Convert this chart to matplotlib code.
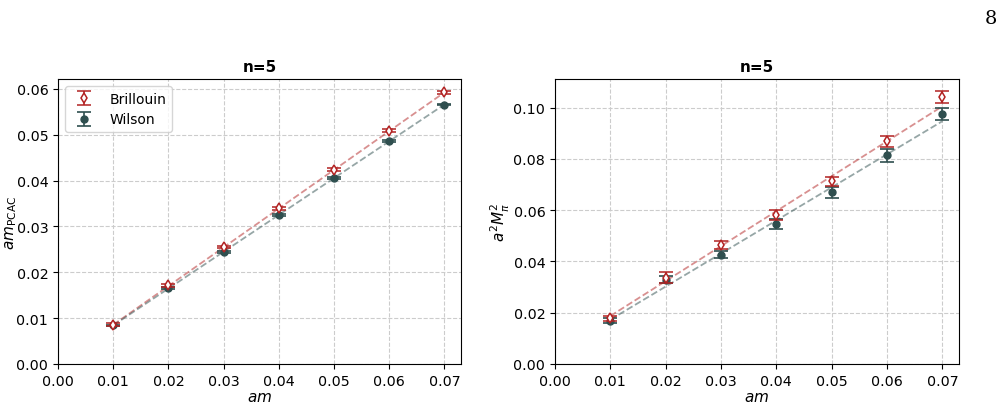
import numpy as np
import matplotlib
matplotlib.use("Agg")
import matplotlib.pyplot as plt

am = [0.01, 0.02, 0.03, 0.04, 0.05, 0.06, 0.07]

# am_PCAC
pcac_bri = [0.0086, 0.0172, 0.0255, 0.0340, 0.0424, 0.0509, 0.0593]
pcac_bri_err = [0.0003, 0.0003, 0.0003, 0.0003, 0.0003, 0.0003, 0.0003]
pcac_wil = [0.0084, 0.0165, 0.0244, 0.0325, 0.0406, 0.0487, 0.0566]
pcac_wil_err = [0.0002, 0.0002, 0.0002, 0.0002, 0.0002, 0.0002, 0.0002]

# a^2 M_pi^2
mpi_bri = [0.0178, 0.0337, 0.0464, 0.0581, 0.0713, 0.0868, 0.1042]
mpi_bri_err = [0.0010, 0.0021, 0.0016, 0.0019, 0.0017, 0.0023, 0.0024]
mpi_wil = [0.0168, 0.0329, 0.0426, 0.0545, 0.0669, 0.0814, 0.0975]
mpi_wil_err = [0.0010, 0.0015, 0.0014, 0.0019, 0.0021, 0.0025, 0.0025]

# fit lines (slope, intercept)
fit_pcac_bri = (0.845, 0.0001)
fit_pcac_wil = (0.803, 0.0004)
fit_mpi_bri = (1.363, 0.0051)
fit_mpi_wil = (1.29, 0.0044)

red = "#b22222"
dark = "#2f4f4f"

fig = plt.figure(figsize=(10.05, 4.06), dpi=100)
ax1 = fig.add_axes([58/1005, 41/406, 403/1005, 285/406])
ax2 = fig.add_axes([555/1005, 41/406, 404/1005, 285/406])

def panel(ax, yb, eb, yw, ew, fb, fw, ylabel, legend, lx):
    x = np.array(am)
    xl = np.array([am[0], am[-1]])
    ax.plot(xl, fb[0]*xl + fb[1], "--", color=red, alpha=0.5, lw=1.3, zorder=2)
    ax.plot(xl, fw[0]*xl + fw[1], "--", color=dark, alpha=0.5, lw=1.3, zorder=2)
    ax.errorbar(x, yw, yerr=ew, fmt="o", color=dark, ms=5, capsize=5,
                elinewidth=1.2, capthick=1.2, label="Wilson", zorder=3)
    ax.errorbar(x, yb, yerr=eb, fmt="d", color=red, mfc="white", mec=red,
                ms=5, mew=1.1, capsize=5, elinewidth=1.2, capthick=1.2,
                label="Brillouin", zorder=4)
    ax.set_xlim(left=0)
    ax.set_ylim(bottom=0)
    ax.set_xticks(np.arange(0, 0.071, 0.01))
    ax.grid(True, ls="--", color="#cccccc", lw=0.8)
    ax.set_axisbelow(True)
    ax.set_title("n=5", fontweight="bold", fontsize=11)
    ax.set_xlabel("$am$", fontsize=11, labelpad=1)
    ax.set_ylabel(ylabel, fontsize=11)
    ax.yaxis.set_label_coords(lx, 0.5)
    ax.tick_params(labelsize=10.3)
    if legend:
        h, l = ax.get_legend_handles_labels()
        ax.legend(h[::-1], l[::-1], loc="upper left", fontsize=10)

panel(ax1, pcac_bri, pcac_bri_err, pcac_wil, pcac_wil_err,
      fit_pcac_bri, fit_pcac_wil, r"$am_{\rm PCAC}$", True, -0.097)
panel(ax2, mpi_bri, mpi_bri_err, mpi_wil, mpi_wil_err,
      fit_mpi_bri, fit_mpi_wil, r"$a^2M_\pi^2$", False, -0.107)
ax1.set_yticks(np.arange(0, 0.061, 0.01))
ax2.set_yticks(np.arange(0, 0.101, 0.02))

fig.text(0.992, 0.975, "8", family="DejaVu Serif", fontsize=14, ha="right", va="top")

fig.savefig("out.png", dpi=100)
